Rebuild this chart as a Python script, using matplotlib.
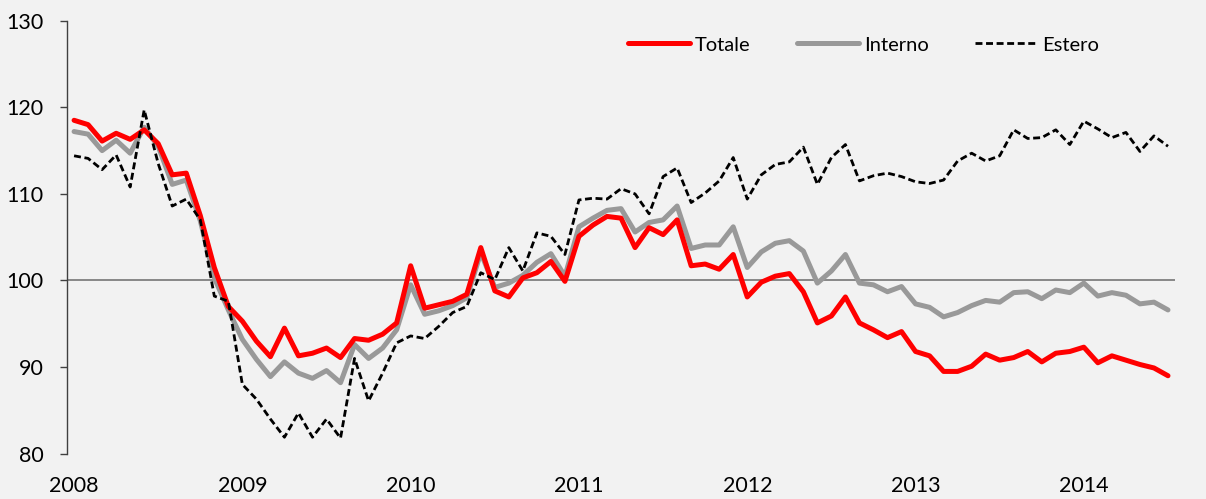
import matplotlib
matplotlib.use("Agg")
import matplotlib.pyplot as plt

years = ["2008", "2009", "2010", "2011", "2012", "2013", "2014"]

totale = [
    118.5, 118.0, 116.1, 117.0, 116.3, 117.4, 115.8, 112.2, 112.4, 107.5, 101.5, 97.0,
    95.3, 93.0, 91.2, 94.5, 91.3, 91.6, 92.2, 91.1, 93.3, 93.1, 93.8, 95.1,
    101.7, 96.8, 97.2, 97.6, 98.4, 103.8, 98.8, 98.1, 100.3, 100.9, 102.2, 99.9,
    105.1, 106.4, 107.4, 107.2, 103.8, 106.1, 105.3, 107.0, 101.7, 101.9, 101.3, 103.0,
    98.1, 99.8, 100.5, 100.8, 98.7, 95.1, 95.9, 98.1, 95.1, 94.3, 93.4, 94.1,
    91.8, 91.3, 89.5, 89.5, 90.1, 91.5, 90.8, 91.1, 91.8, 90.6, 91.6, 91.8,
    92.3, 90.5, 91.3, 90.8, 90.3, 89.9, 89.0]

interno = [
    117.2, 116.9, 115.0, 116.2, 114.7, 117.7, 115.5, 111.1, 111.6, 106.9, 100.3, 96.6,
    93.2, 90.9, 88.9, 90.6, 89.3, 88.7, 89.6, 88.2, 92.6, 91.0, 92.2, 94.3,
    99.5, 96.1, 96.5, 97.1, 98.0, 103.2, 99.2, 99.7, 100.6, 102.1, 103.1, 100.5,
    106.2, 107.2, 108.1, 108.3, 105.6, 106.7, 107.0, 108.6, 103.7, 104.1, 104.1, 106.2,
    101.5, 103.3, 104.3, 104.6, 103.4, 99.7, 101.1, 103.0, 99.7, 99.5, 98.7, 99.3,
    97.3, 96.9, 95.8, 96.3, 97.1, 97.7, 97.5, 98.6, 98.7, 97.9, 98.9, 98.6,
    99.7, 98.2, 98.6, 98.3, 97.3, 97.5, 96.6]

estero = [
    114.4, 114.1, 112.8, 114.5, 110.8, 119.7, 113.5, 108.6, 109.4, 107.0, 98.2, 97.6,
    88.0, 86.3, 84.0, 81.9, 84.7, 81.9, 84.0, 81.8, 91.0, 86.1, 89.3, 92.8,
    93.6, 93.3, 94.7, 96.3, 97.0, 100.9, 100.1, 103.8, 101.1, 105.5, 105.1, 103.0,
    109.3, 109.5, 109.4, 110.6, 110.0, 107.7, 112.0, 113.0, 109.0, 110.1, 111.5, 114.2,
    109.4, 112.2, 113.4, 113.7, 115.4, 111.1, 114.2, 115.7, 111.5, 112.1, 112.4, 112.0,
    111.4, 111.2, 111.6, 113.8, 114.7, 113.8, 114.4, 117.4, 116.4, 116.5, 117.4, 115.7,
    118.4, 117.5, 116.5, 117.1, 114.9, 116.7, 115.5]

yticks = [80, 90, 100, 110, 120, 130]

plt.rcParams['font.family'] = ['Lato', 'DejaVu Sans']
bg = '#f2f2f2'
fig = plt.figure(figsize=(12.06, 4.99), dpi=100, facecolor=bg)
ax = fig.add_axes([0.0556, 0.0908, 0.9187, 0.8677])
ax.set_facecolor(bg)

x = list(range(len(totale)))
ax.axhline(100, color='#7f7f7f', lw=1.3, zorder=1)
ax.plot(x, totale, color='#ff0000', lw=3.6, label='Totale', zorder=3,
        solid_joinstyle='round', solid_capstyle='round')
ax.plot(x, interno, color='#999999', lw=3.6, label='Interno', zorder=2,
        solid_joinstyle='round', solid_capstyle='round')
ax.plot(x, estero, color='black', lw=2.0, ls=(0, (2.5, 1.3)), label='Estero', zorder=4)

ax.set_xlim(-0.5, len(totale) - 0.5)
ax.set_ylim(80, 130)
ax.set_yticks(yticks)
ax.set_yticklabels([str(v) for v in yticks], fontsize=15.5)
ax.set_xticks(list(range(0, len(totale), 12)))
ax.set_xticklabels(years, fontsize=15.5)
ax.tick_params(axis='x', length=0, pad=16)
ax.tick_params(axis='y', length=5, width=1, direction='out', pad=12, color='#404040')
for s in ['top', 'right', 'bottom']:
    ax.spines[s].set_visible(False)
ax.spines['left'].set_color('#404040')
ax.spines['left'].set_linewidth(1)

leg = ax.legend(loc='center left', bbox_to_anchor=(628 / 1206, 1 - 45 / 499),
                bbox_transform=fig.transFigure, ncol=3, frameon=False,
                borderpad=0, borderaxespad=0,
                fontsize=14.5, handlelength=3.08, handletextpad=0.25, columnspacing=2.29)

fig.savefig('out.png', dpi=100, facecolor=bg)
